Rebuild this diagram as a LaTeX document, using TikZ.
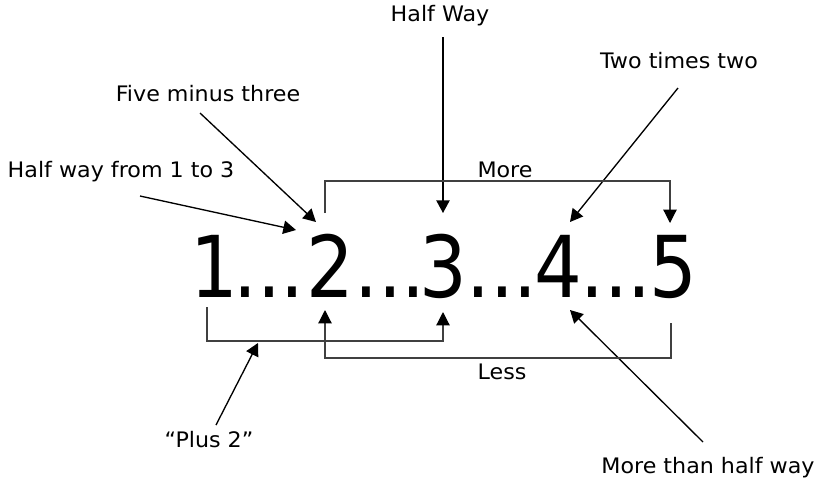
\documentclass[tikz,border=0pt]{standalone}
\usepackage{fontspec}
\setmainfont{DejaVu Sans}[FakeStretch=0.88]
\newfontfamily\lblfont{DejaVu Sans}[FakeStretch=1.04]
\usetikzlibrary{arrows.meta}
\tikzset{
  lbl/.style={anchor=base,inner sep=0pt,font=\lblfont\fontsize{16}{19}\selectfont},
  digit/.style={anchor=base,inner sep=0pt,font=\fontsize{64}{70}\selectfont},
  brk/.style={draw=black!75,line width=0.9pt,-{Triangle[length=10pt,width=10pt,color=black]}},
}
\begin{document}
\begin{tikzpicture}[x=0.75pt,y=-0.75pt,>={Triangle[length=9.5pt,width=10pt]},line width=1pt]
\useasboundingbox (0,0) rectangle (819,480);
% the number line
\node[digit] (n1) at (214,297) {1};
\node[digit] (d1) at (269,297) {...};
\node[digit] (n2) at (330,297) {2};
\node[digit] (d2) at (390,297) {...};
\node[digit] (n3) at (443,297) {3};
\node[digit] (d3) at (502,297) {...};
\node[digit] (n4) at (558,297) {4};
\node[digit] (d4) at (616,297) {...};
\node[digit] (n5) at (673,297) {5};
% labels
\node[lbl] (halfway) at (440,21) {Half Way};
\node[lbl] (twotimes) at (679,68) {Two times two};
\node[lbl] (fiveminus) at (208,101) {Five minus three};
\node[lbl] (halffrom) at (121,177) {Half way from 1 to 3};
\node[lbl] (more) at (505,177) {More};
\node[lbl] (less) at (502,379) {Less};
\node[lbl] (plustwo) at (209,447) {“Plus 2”};
\node[lbl] (morethan) at (708,473) {More than half way};
% arrow ends
\coordinate (hw) at (443,37);   \coordinate (hw3) at (443,213);
\coordinate (tt) at (678,88);   \coordinate (tt4) at (570,222);
\coordinate (fm) at (200,113);  \coordinate (fm2) at (316,222);
\coordinate (hf) at (140,196);  \coordinate (hf2) at (296,230);
\coordinate (pt) at (216,425);  \coordinate (pt1) at (258,343);
\coordinate (mt) at (703,442);  \coordinate (mt4) at (570,310);
\draw[->] (hw) -- (hw3);
\draw[->] (tt) -- (tt4);
\draw[->] (fm) -- (fm2);
\draw[->] (hf) -- (hf2);
\draw[->] (pt) -- (pt1);
\draw[->] (mt) -- (mt4);
% brackets
\draw[brk] (325,213) -- (325,181) -- (670,181) -- (670,223);
\draw[brk] (207,307) -- (207,341) -- (443,341) -- (443,312);
\draw[brk] (671,323) -- (671,358) -- (325,358) -- (325,310);
\end{tikzpicture}
\end{document}
